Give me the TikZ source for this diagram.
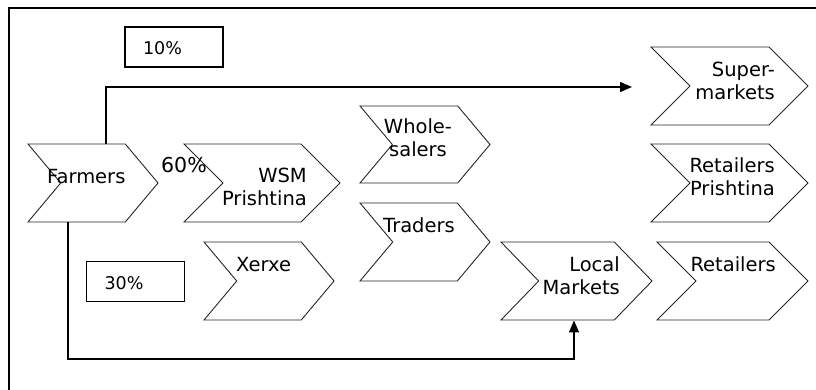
\documentclass[tikz,border=0pt]{standalone}
\usepackage{fontspec}
\setmainfont{DejaVu Sans}
\usetikzlibrary{arrows.meta,shapes.symbols}

\tikzset{
  chev/.style={draw=black!85, line width=0.9pt, shape=signal, signal from=west,
    signal to=east, signal pointer angle=100, minimum height=78pt, inner sep=0pt},
  lbl/.style={inner sep=0pt, font=\fontsize{19.5}{23}\selectfont},
  pctbox/.style={draw, line width=1.2pt, minimum width=98pt, minimum height=40pt,
    inner xsep=18pt, text width=62pt, align=left, text height=16pt, text depth=0pt,
    font=\fontsize{17.5}{20}\selectfont},
  flow/.style={line width=1.4pt, -{Triangle[length=12pt,width=10pt]}}
}

\begin{document}
\begin{tikzpicture}[x=1pt,y=-1pt]
  \useasboundingbox (0,0) rectangle (816,390);
  % frame
  \draw[line width=1.6pt] (9,390) -- (9,8) -- (816,8);

  % chevrons
  \node[chev, minimum width=130pt] (farmers) at (93,183) {};
  \node[chev, minimum width=156pt, signal pointer angle=90] (wsm) at (262,183) {};
  \node[chev, minimum width=130pt, minimum height=77pt] (whole) at (425,144.5) {};
  \node[chev, minimum width=130pt] (traders) at (425,242) {};
  \node[chev, minimum width=130pt] (xerxe) at (269,281) {};
  \node[chev, minimum width=151pt, signal pointer angle=92] (local) at (576.5,281) {};
  \node[chev, minimum width=157pt, signal pointer angle=90] (super) at (729.5,86) {};
  \node[chev, minimum width=157pt, signal pointer angle=90] (retpr) at (729.5,183) {};
  \node[chev, minimum width=151pt, signal pointer angle=90] (retail) at (732.5,281) {};

  % labels (multi-line ones sit on their last baseline)
  \node[lbl, anchor=base west] (farmersT) at (47,183) {Farmers};
  \node[lbl, font=\fontsize{20.5}{23}\selectfont, anchor=base west] (pct60) at (161,173) {60\%};
  \node[lbl, align=right, anchor=base east] (wsmT) at (307,205) {WSM\\Prishtina};
  \node[lbl, align=center, anchor=base] (wholeT) at (418,157) {Whole-\\salers};
  \node[lbl, anchor=base west] (tradersT) at (383,232) {Traders};
  \node[lbl, anchor=base west] (xerxeT) at (236,271) {Xerxe};
  \node[lbl, align=right, anchor=base east] (localT) at (620,294) {Local\\Markets};
  \node[lbl, align=right, anchor=base east] (superT) at (775,100) {Super-\\markets};
  \node[lbl, align=right, anchor=base east] (retprT) at (775,196) {Retailers\\Prishtina};
  \node[lbl, anchor=base east] (retailT) at (776,271) {Retailers};

  % share boxes
  \node[pctbox] (box10) at (174,47) {10\%};
  \node[pctbox] (box30) at (135.5,281.5) {30\%};

  % flows
  \coordinate (upLeft) at (106,87);
  \coordinate (supIn) at (632,87);
  \coordinate (lowLeft) at (68,359);
  \draw[flow] (farmers.north -| upLeft) -- (upLeft) -- (supIn);
  \draw[flow] (farmers.south -| lowLeft) -- (lowLeft) -| ([xshift=-2.5pt]local.south);
\end{tikzpicture}
\end{document}
